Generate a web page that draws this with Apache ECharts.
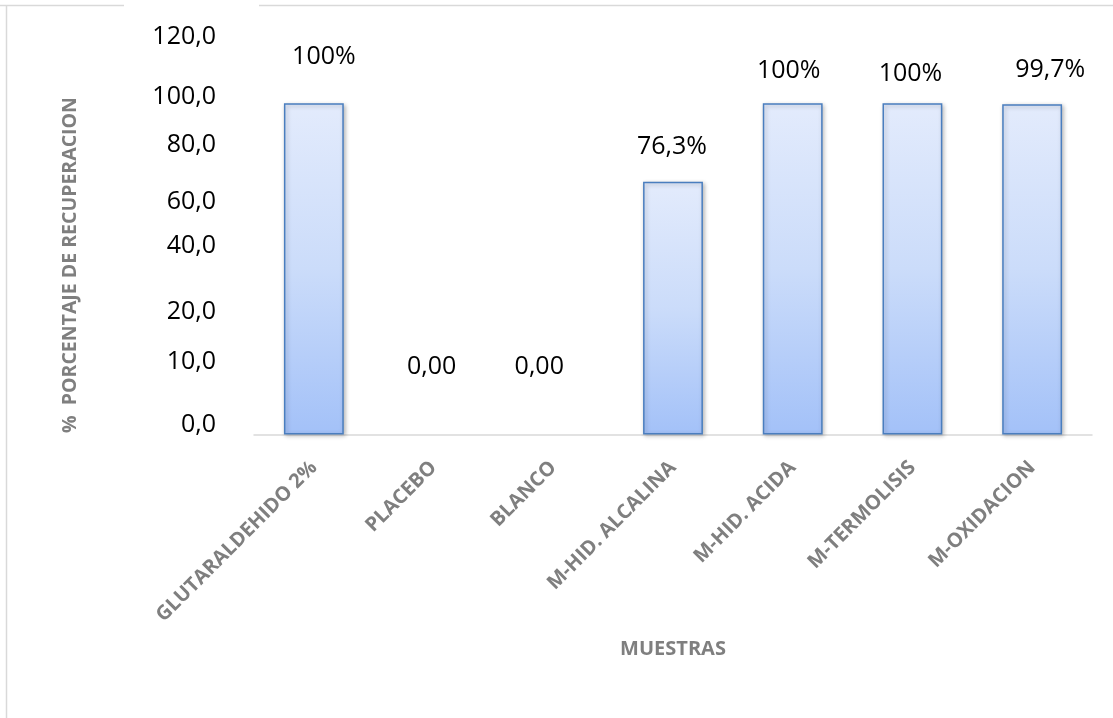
<!DOCTYPE html>
<html>
<head>
<meta charset="utf-8">
<script src="https://cdn.jsdelivr.net/npm/echarts@6/dist/echarts.min.js"></script>
<style>
html,body{margin:0;padding:0;background:#fff;}
#chart{width:1113px;height:718px;}
</style>
</head>
<body>
<div id="chart"></div>
<script>
// ---- data ----
const categories = ['GLUTARALDEHIDO 2%', 'PLACEBO', 'BLANCO', 'M-HID. ALCALINA', 'M-HID. ACIDA', 'M-TERMOLISIS', 'M-OXIDACION'];
const recovery = [100, 0, 0, 76.3, 100, 100, 99.7];
const valueLabels = ['100%', '0,00', '0,00', '76,3%', '100%', '100%', '99,7%'];
const yTickLabels = ['0,0', '10,0', '20,0', '40,0', '60,0', '80,0', '100,0', '120,0'];
const yTickAt = [2.9, 21.9, 37.0, 56.8, 70.2, 87.4, 101.9, 120];
const yTitle = '%  PORCENTAJE DE RECUPERACION';
const xTitle = 'MUESTRAS';

// ---- layout (label nudges as drawn in the reference, px) ----
const labelNudge = [[10, -34], [-2, -55], [-14, -55], [-1, -22], [-4, -20], [-2, -17], [18, -22]];

const chart = echarts.init(document.getElementById('chart'));
const font = '"Open Sans", "Liberation Sans", sans-serif';

const barStyle = {
  color: new echarts.graphic.LinearGradient(0, 0, 0, 1, [
    { offset: 0, color: '#e3ebfc' },
    { offset: 0.5, color: '#cbdcfa' },
    { offset: 1, color: '#a3c1f8' }
  ]),
  borderColor: '#4a7ebf',
  borderWidth: 1.5,
  shadowBlur: 4,
  shadowColor: 'rgba(0,0,0,0.25)',
  shadowOffsetX: 1.5,
  shadowOffsetY: 1.5
};

const option = {
  animation: false,
  backgroundColor: '#ffffff',
  grid: { left: 254, right: 21, top: 37, bottom: 283.5, containLabel: false },
  xAxis: {
    type: 'category',
    data: categories,
    name: xTitle,
    nameLocation: 'middle',
    nameGap: 205,
    nameTextStyle: { fontFamily: font, fontWeight: 'bold', fontSize: 20, color: '#7f7f7f', verticalAlign: 'top' },
    axisLine: { show: true, lineStyle: { color: '#d9d9d9', width: 1.5 } },
    axisTick: { show: false },
    axisLabel: {
      rotate: 45,
      margin: 30,
      interval: 0,
      fontFamily: font,
      fontWeight: 'bold',
      fontSize: 20,
      color: '#7f7f7f'
    }
  },
  yAxis: {
    type: 'value',
    min: 0,
    max: 120,
    axisLine: { show: false },
    axisTick: { show: false },
    splitLine: { show: false },
    axisLabel: {
      customValues: yTickAt,
      margin: 38,
      fontFamily: font,
      fontSize: 25,
      color: '#000000',
      formatter: function (v) {
        let best = 0, d = Infinity;
        for (let i = 0; i < yTickAt.length; i++) {
          const dd = Math.abs(yTickAt[i] - v);
          if (dd < d) { d = dd; best = i; }
        }
        return yTickLabels[best];
      }
    }
  },
  series: [{
    type: 'bar',
    barWidth: '50%',
    data: recovery.map(function (v, i) {
      const item = { value: v, label: { offset: labelNudge[i] } };
      if (v === 0) {
        item.itemStyle = { borderWidth: 0, opacity: 0 };
      }
      return item;
    }),
    itemStyle: barStyle,
    label: {
      show: true,
      position: 'top',
      distance: 0,
      fontFamily: font,
      fontSize: 25,
      color: '#000000',
      opacity: 1,
      formatter: function (p) { return valueLabels[p.dataIndex]; }
    }
  }],
  graphic: [
    { type: 'line', shape: { x1: 0, y1: 5.5, x2: 124, y2: 5.5 }, style: { stroke: '#d9d9d9', lineWidth: 1.5 } },
    { type: 'line', shape: { x1: 259, y1: 5.5, x2: 1113, y2: 5.5 }, style: { stroke: '#d9d9d9', lineWidth: 1.5 } },
    { type: 'line', shape: { x1: 6.5, y1: 5, x2: 6.5, y2: 718 }, style: { stroke: '#d9d9d9', lineWidth: 1.5 } },
    {
      type: 'text',
      x: 70, y: 265,
      rotation: Math.PI / 2,
      style: {
        text: yTitle,
        fontFamily: font,
        fontWeight: 'bold',
        fontSize: 19.5,
        fill: '#7f7f7f',
        align: 'center',
        verticalAlign: 'middle'
      }
    }
  ]
};
chart.setOption(option);
</script>
</body>
</html>
